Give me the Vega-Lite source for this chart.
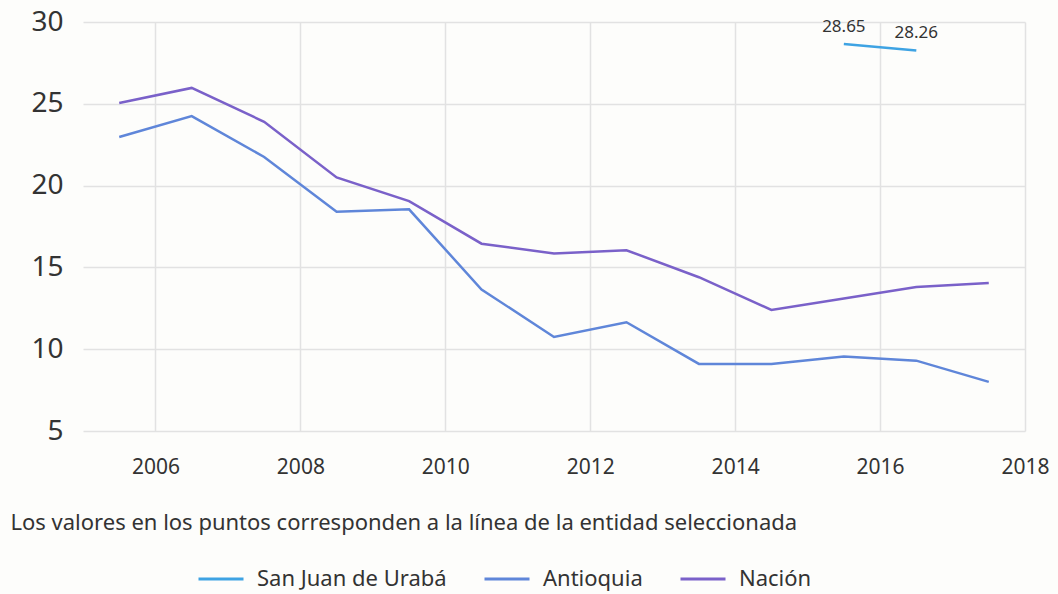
{
  "$schema": "https://vega.github.io/schema/vega-lite/v6.json",
  "autosize": {"type": "none"},
  "width": 942,
  "height": 409,
  "padding": {"left": 83, "top": 22, "right": 33, "bottom": 163},
  "background": "#fdfdfb",
  "config": {
    "view": {"stroke": null},
    "font": "Noto Sans",
    "axis": {"labelColor": "#333333", "gridColor": "#e2e2e2", "gridWidth": 1.5, "domain": false, "ticks": false}
  },
  "data": {
    "values": [
      {"year": 2005.5, "serie": "Nación", "value": 25.05},
      {"year": 2006.5, "serie": "Nación", "value": 25.97},
      {"year": 2007.5, "serie": "Nación", "value": 23.9},
      {"year": 2008.5, "serie": "Nación", "value": 20.5},
      {"year": 2009.5, "serie": "Nación", "value": 19.05},
      {"year": 2010.5, "serie": "Nación", "value": 16.45},
      {"year": 2011.5, "serie": "Nación", "value": 15.85},
      {"year": 2012.5, "serie": "Nación", "value": 16.05},
      {"year": 2013.5, "serie": "Nación", "value": 14.4},
      {"year": 2014.5, "serie": "Nación", "value": 12.4},
      {"year": 2015.5, "serie": "Nación", "value": 13.1},
      {"year": 2016.5, "serie": "Nación", "value": 13.8},
      {"year": 2017.5, "serie": "Nación", "value": 14.05},
      {"year": 2005.5, "serie": "Antioquia", "value": 22.97},
      {"year": 2006.5, "serie": "Antioquia", "value": 24.25},
      {"year": 2007.5, "serie": "Antioquia", "value": 21.75},
      {"year": 2008.5, "serie": "Antioquia", "value": 18.4},
      {"year": 2009.5, "serie": "Antioquia", "value": 18.55},
      {"year": 2010.5, "serie": "Antioquia", "value": 13.65},
      {"year": 2011.5, "serie": "Antioquia", "value": 10.75},
      {"year": 2012.5, "serie": "Antioquia", "value": 11.65},
      {"year": 2013.5, "serie": "Antioquia", "value": 9.1},
      {"year": 2014.5, "serie": "Antioquia", "value": 9.1},
      {"year": 2015.5, "serie": "Antioquia", "value": 9.55},
      {"year": 2016.5, "serie": "Antioquia", "value": 9.3},
      {"year": 2017.5, "serie": "Antioquia", "value": 8.0},
      {"year": 2015.5, "serie": "San Juan de Urabá", "value": 28.65},
      {"year": 2016.5, "serie": "San Juan de Urabá", "value": 28.26}
    ]
  },
  "encoding": {
    "x": {
      "field": "year",
      "type": "quantitative",
      "scale": {"domain": [2005, 2018], "nice": false, "zero": false},
      "axis": {
        "values": [2006, 2008, 2010, 2012, 2014, 2016, 2018],
        "format": "d",
        "labelFontSize": 21,
        "labelPadding": 25,
        "labelFlush": false,
        "title": "Los valores en los puntos corresponden a la línea de la entidad seleccionada",
        "titleX": -73,
        "titleY": 91,
        "titleAlign": "left",
        "titleBaseline": "middle",
        "titleFontSize": 22,
        "titleFontWeight": "normal",
        "titleColor": "#333333",
        "titleLimit": 1000
      }
    },
    "y": {
      "field": "value",
      "type": "quantitative",
      "scale": {"domain": [5, 30], "nice": false, "zero": false},
      "axis": {"values": [5, 10, 15, 20, 25, 30], "labelFontSize": 28, "labelPadding": 20, "title": null}
    }
  },
  "layer": [
    {
      "mark": {"type": "line", "strokeWidth": 2.5},
      "encoding": {
        "color": {
          "field": "serie",
          "type": "nominal",
          "scale": {"domain": ["San Juan de Urabá", "Antioquia", "Nación"], "range": ["#3ea3e3", "#5f86d9", "#7a61c9"]},
          "legend": {
            "title": null,
            "orient": "none",
            "direction": "horizontal",
            "legendX": 114,
            "legendY": 533,
            "symbolType": "stroke",
            "symbolSize": 2025,
            "symbolStrokeWidth": 3,
            "labelFontSize": 22,
            "labelLimit": 400,
            "labelColor": "#333333",
            "labelOffset": 12,
            "columnPadding": 31
          }
        }
      }
    },
    {
      "transform": [{"filter": "datum.serie === 'San Juan de Urabá'"}],
      "mark": {"type": "text", "dy": -17, "fontSize": 17, "color": "#333333"},
      "encoding": {
        "text": {"field": "value", "type": "quantitative", "format": ".2f"}
      }
    }
  ]
}
